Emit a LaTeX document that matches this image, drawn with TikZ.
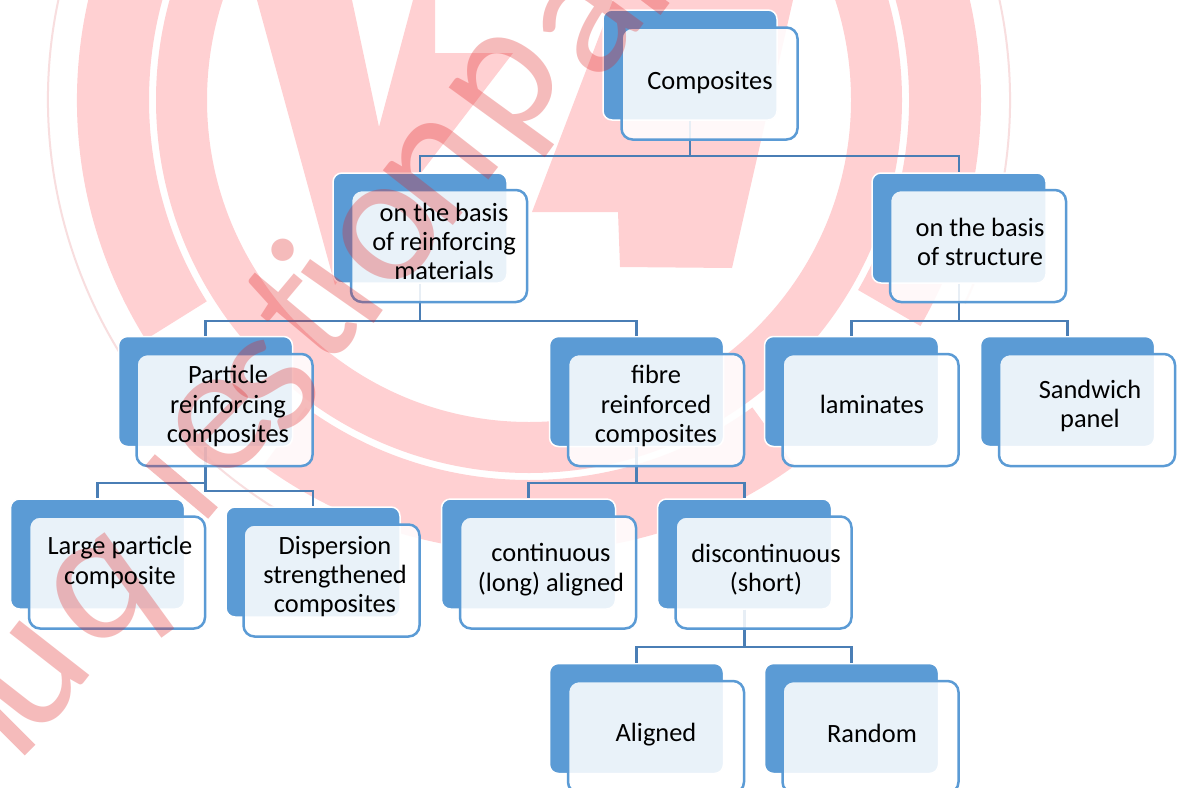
\documentclass[tikz,border=0pt]{standalone}
\usepackage{fontspec}
\setmainfont{Carlito}
\definecolor{boxblue}{HTML}{5B9BD5}
\definecolor{linkblue}{HTML}{4A7EB5}
\definecolor{wmband}{HTML}{FFD0D2}
\definecolor{wmthin}{HTML}{F8DEDF}
\definecolor{wmred}{HTML}{E02020}
\tikzset{
  backbox/.style={draw=white, line width=1.5pt, fill=boxblue, rounded corners=9pt, minimum width=174pt, minimum height=110pt, inner sep=0pt},
  frontbox/.style={draw=boxblue, line width=2.5pt, fill=white, fill opacity=0.87, draw opacity=1, rounded corners=11pt, minimum width=176pt, minimum height=112pt, inner sep=0pt},
  boxtext/.style={align=center, inner sep=0pt, font=\fontsize{26.4}{29.3}\selectfont, text=black},
  branch/.style={draw=linkblue, line width=2.4pt},
  wmletter/.style={inner sep=0pt, anchor=base, text=wmred, text opacity=0.3, font=\fontsize{186}{186}\selectfont},
  wmstem/.style={draw=wmred, draw opacity=0.3, line width=15pt}
}
\begin{document}
\begin{tikzpicture}[x=1pt,y=-1pt]
\useasboundingbox (0,0) rectangle (1182,787);
\clip (0,0) rectangle (1182,787);
\fill[white] (0,0) rectangle (1182,787);
\begin{scope}[shift={(529,100)}]
\draw[wmthin, line width=2pt] (120:481) arc[start angle=120, end angle=385, radius=481];
\draw[wmband, line width=51pt] (0,0) circle (347.5);
\fill[wmband] (148:452) arc[start angle=148, end angle=390, radius=452] -- (390:380) arc[start angle=390, end angle=148, radius=380] -- cycle;
\fill[wmband] (54:452) arc[start angle=54, end angle=126, radius=452] -- (126:380) arc[start angle=126, end angle=54, radius=380] -- cycle;
\end{scope}
\fill[wmband] (257,0) -- (335,285) -- (513,53) -- (435,53) -- (435,0) -- (413,0) -- (379,127) -- (352,0) -- cycle;
\fill[wmband] (613,0) -- (793,0) -- (732,268) -- (620,267) -- (618,212) -- (532,212) -- cycle;
\node[backbox] (compb) at (690,65) {};
\node[backbox] (reinfb) at (420,228) {};
\node[backbox] (structb) at (959,228) {};
\node[backbox] (partb) at (205.5,391.5) {};
\node[backbox] (fibreb) at (636.5,391.5) {};
\node[backbox] (lamb) at (851.5,391.5) {};
\node[backbox] (sandb) at (1067.5,391.5) {};
\node[backbox] (largeb) at (97.5,554) {};
\node[backbox] (dispb) at (313,562) {};
\node[backbox] (contb) at (528.5,554) {};
\node[backbox] (discb) at (744.5,554) {};
\node[backbox] (alignb) at (636.5,718.5) {};
\node[backbox] (randb) at (851.5,718.5) {};
\draw[branch] (compb.south) -- ++(0,35) -| (reinfb.north);
\draw[branch] (compb.south) -- ++(0,35) -| (structb.north);
\draw[branch] (reinfb.south) -- ++(0,37) -| (partb.north);
\draw[branch] (reinfb.south) -- ++(0,37) -| (fibreb.north);
\draw[branch] (structb.south) -- ++(0,37) -| (lamb.north);
\draw[branch] (structb.south) -- ++(0,37) -| (sandb.north);
\draw[branch] (partb.south) -- ++(0,35.5) -| (largeb.north);
\draw[branch] (partb.south) -- ++(0,43.5) -| (dispb.north);
\draw[branch] (fibreb.south) -- ++(0,35.5) -| (contb.north);
\draw[branch] (fibreb.south) -- ++(0,35.5) -| (discb.north);
\draw[branch] (discb.south) -- ++(0,37) -| (alignb.north);
\draw[branch] (discb.south) -- ++(0,37) -| (randb.north);
\node[frontbox] (compf) at (709.5,83.5) {};
\node[frontbox] (reinff) at (439,246) {};
\node[frontbox] (structf) at (978,246) {};
\node[frontbox] (partf) at (224.5,410) {};
\node[frontbox] (fibref) at (656,410) {};
\node[frontbox] (lamf) at (870.5,410) {};
\node[frontbox] (sandf) at (1087,410) {};
\node[frontbox] (largef) at (117,572.5) {};
\node[frontbox] (dispf) at (331.5,580.5) {};
\node[frontbox] (contf) at (548,572.5) {};
\node[frontbox] (discf) at (763.5,572.5) {};
\node[frontbox] (alignf) at (656,737) {};
\node[frontbox] (randf) at (870.5,737) {};
\draw[wmstem] (-8,712) -- (30,750);
\node[wmletter, rotate=52] (wmu) at (68,704) {u};
\node[wmletter, rotate=36] (wmq) at (128,626) {q};
\draw[wmstem] (150,460) -- (213,513);
\node[wmletter, rotate=45] (wme) at (253,457) {e};
\node[wmletter, rotate=50] (wms) at (307,414) {s};
\node[wmletter, rotate=50] (wmt) at (345,350) {t};
\node[wmletter, rotate=55] (wmi) at (379,317) {i};
\node[wmletter, rotate=52] (wmo) at (424,262) {o};
\node[wmletter, rotate=52] (wmn) at (476,197) {n};
\node[wmletter, rotate=54] (wmp) at (542,111) {p};
\node[wmletter, rotate=54] (wma) at (625,50) {a};
\draw[wmstem] (640,-10) -- (665,9);
\node[boxtext] (comptext) at (710,83) {Composites};
\node[boxtext] (reinftext) at (444,241.5) {on the basis\\of reinforcing\\materials};
\node[boxtext] (structtext) at (980,242) {on the basis\\of structure};
\node[boxtext] (parttext) at (228,406) {Particle\\reinforcing\\composites};
\node[boxtext] (fibretext) at (656,406) {fibre\\reinforced\\composites};
\node[boxtext] (lamtext) at (872,404) {laminates};
\node[boxtext] (sandtext) at (1090,406) {Sandwich\\panel};
\node[boxtext] (largetext) at (120,562.5) {Large particle\\composite};
\node[boxtext] (disptext) at (335,576.5) {Dispersion\\strengthened\\composites};
\node[boxtext] (conttext) at (551,569.5) {continuous\\(long) aligned};
\node[boxtext] (disctext) at (766,569.5) {discontinuous\\(short)};
\node[boxtext] (aligntext) at (656,735) {Aligned};
\node[boxtext] (randtext) at (872,733) {Random};
\end{tikzpicture}
\end{document}
